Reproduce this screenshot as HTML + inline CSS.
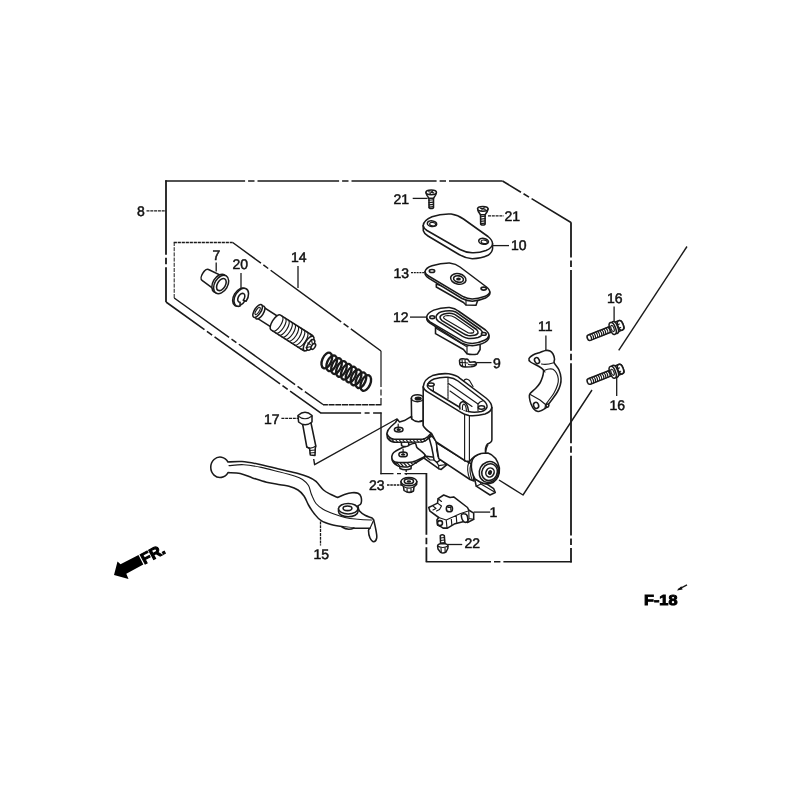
<!DOCTYPE html>
<html><head><meta charset="utf-8"><title>F-18</title>
<style>
html,body{margin:0;padding:0;background:#fff;}
body{width:800px;height:800px;overflow:hidden;}
svg{display:block;will-change:transform;}
text{text-rendering:geometricPrecision;}
.lbl{font-family:"Liberation Sans",Arial,sans-serif;font-size:14px;fill:#111;stroke:#111;stroke-width:0.5;}
.ln{fill:none;stroke:#1a1a1a;stroke-width:1.4;stroke-linecap:butt;stroke-linejoin:round;}
.ld{fill:none;stroke:#1a1a1a;stroke-width:1.3;}
.p{fill:#fff;stroke:#1a1a1a;stroke-width:1.55;stroke-linejoin:round;stroke-linecap:round;}
.t{fill:none;stroke:#1a1a1a;stroke-width:1.15;stroke-linejoin:round;stroke-linecap:round;}
.k{fill:#1a1a1a;stroke:none;}
</style></head>
<body>
<svg width="800" height="800" viewBox="0 0 800 800">
<rect width="800" height="800" fill="#fff"/>
<!-- FRAMES -->
<g id="frames" class="ln" stroke-linecap="butt">
<path d="M166,302 L166,180.3" stroke-dasharray="34.8 3.0 6.4 3.0 76.5 0" stroke-width="1.8"/>
<path d="M165.3,181 L502.5,181" stroke-dasharray="79.8 3.0 6.4 3.0 81.6 3.0 6.4 3.0 85.1 3.0 6.4 3.0 55.5 0" stroke-width="1.35"/>
<path d="M502.5,181 L571,222.5" stroke-dasharray="21.6 3.0 6.4 3.0 48.1 0" stroke-width="1.6"/>
<path d="M571,222.2 L571,562.4" stroke-dasharray="35.3 3.0 6.4 3.0 80.9 3.0 6.4 3.0 80.1 3.0 6.4 3.0 79.8 3.0 6.4 3.0 16.5 0" stroke-width="1.8"/>
<path d="M571.7,561.7 L425.7,561.7" stroke-dasharray="68.3 3.0 6.4 3.0 67.3 0" stroke-width="1.5"/>
<path d="M426.4,561.7 L426.4,473" stroke-dasharray="14.5 3.0 6.4 3.0 63.8 0" stroke-width="1.8"/>
<path d="M427,473.6 L380.4,473.6" stroke-dasharray="22.5 3.5 4 3.5 15.1 0" stroke-width="1.2"/>
<path d="M381,474.3 L381,412.4" stroke-width="1.4"/>
<path d="M381.6,413 L320.5,413" stroke-dasharray="8.5 3.5 5 3.5 42.6 0" stroke-width="1.5"/>
<path d="M321,413.2 L166,302" stroke-dasharray="38.0 3.0 6.4 3.0 80.6 3.0 6.4 3.0 49.4 0" stroke-width="1.6"/>
<path d="M174.2,298 L174.2,242.5" stroke-dasharray="4 1.2" stroke-width="1"/>
<path d="M173.7,242.5 L232.7,242.5" stroke-dasharray="3.2 0.8" stroke-width="1.4"/>
<path d="M232.7,242.5 L381,351" stroke-dasharray="35.0 3 6 3 87.4 3 6 3 39.4 0" stroke-width="1.5"/>
<path d="M381,351 L381,404.5" stroke-dasharray="36 2.5 6 2.5 6 0" stroke-width="1.2"/>
<path d="M381.5,404.7 L323,404.7" stroke-dasharray="6 0.7" stroke-width="1.4"/>
<path d="M323,404.5 L174.2,298" stroke-dasharray="22.3 3 6 3 69.2 3 6 3 69.5 0" stroke-width="1.5"/>
<path d="M687,246.5 L618.7,350.4"/>
<path d="M592,390 L523,495 L499,480"/>
<path d="M313.7,459 L314.6,464.7 L396.7,419 L397.5,426"/>
</g>
<!-- LEADERS -->
<g id="leaders" class="ld">
<path d="M146.5,210.8 H166" stroke-dasharray="3 0.8"/>
<path d="M216.2,262.5 V271.5"/>
<path d="M241,273 V288"/>
<path d="M298,266 V288"/>
<path d="M412.7,198.4 H427.6"/>
<path d="M488,215.9 H503.7" stroke-dasharray="3 0.8"/>
<path d="M492.4,245.6 H509"/>
<path d="M411,272.7 H425" stroke-dasharray="2 0.8"/>
<path d="M410,317.1 H426.7"/>
<path d="M476.6,362.6 H491.5"/>
<path d="M545.9,335.5 V350.4"/>
<path d="M614.1,306.6 V321.5"/>
<path d="M616.7,375.7 V395.9"/>
<path d="M281.4,418.4 H298" stroke-dasharray="3 0.8"/>
<path d="M387,485 H402" stroke-dasharray="2.5 0.8"/>
<path d="M320.5,521.5 V545.5" stroke-dasharray="3 0.8"/>
<path d="M473.6,512.1 H490.2"/>
<path d="M447.4,544.5 H462.2"/>
<path d="M406.2,470 V476" stroke-dasharray="2 1"/>
</g>
<g id="p7" transform="translate(220.7,284.2) rotate(31)">
<path class="p" stroke-width="1.75" d="M0,-8 L-18,-6.3 A3,6.3 0 0 0 -18,6.3 L0,8 Z"/>
<ellipse class="p" stroke-width="1.75" cx="-1.5" cy="0" rx="6.5" ry="10"/>
<ellipse class="p" stroke-width="1.75" cx="0.5" cy="0" rx="6.5" ry="10"/>
<ellipse class="p" stroke-width="1.75" cx="0.8" cy="0" rx="4" ry="6.6"/>
</g>
<g id="p20" transform="translate(241,297.7) rotate(31)">
<ellipse class="p" stroke-width="2.00" cx="-1.2" cy="0" rx="6.2" ry="9.8"/>
<path class="p" stroke-width="2.00" d="M3.5,7.7 A6.2,9.8 0 1 1 6.2,0.5 L3.2,1 A3,4.8 0 1 0 1.5,4.3 Z" />
</g>
<g id="piston" transform="translate(257.2,310.7) rotate(32.5)">
<path class="p" stroke-width="1.75" d="M3,-6.3 L22,-6.3 L22,6.3 L3,6.3 Z"/>
<ellipse class="p" stroke-width="1.75" cx="3.5" cy="0" rx="3.2" ry="7.4"/>
<ellipse class="p" stroke-width="2.12" cx="0.5" cy="0" rx="3.2" ry="7.4"/>
<ellipse class="t" stroke-width="1.88" cx="0.5" cy="0" rx="1.5" ry="4.2"/>
<path class="p" stroke-width="1.88" d="M22,-8.8 L60,-8.8 A3.6,8.8 0 0 1 60,8.8 L22,8.8 A3.6,8.8 0 0 1 22,-8.8 Z"/>
<path class="t" stroke-width="1.88" d="M24.0,-8.8 A3.6,8.8 0 0 1 24.0,8.8"/>
<path class="t" stroke-width="1.88" d="M27.7,-8.8 A3.6,8.8 0 0 1 27.7,8.8"/>
<path class="t" stroke-width="1.88" d="M31.4,-8.8 A3.6,8.8 0 0 1 31.4,8.8"/>
<path class="t" stroke-width="1.88" d="M35.1,-8.8 A3.6,8.8 0 0 1 35.1,8.8"/>
<path class="t" stroke-width="1.88" d="M38.8,-8.8 A3.6,8.8 0 0 1 38.8,8.8"/>
<path class="t" stroke-width="1.88" d="M42.5,-8.8 A3.6,8.8 0 0 1 42.5,8.8"/>
<path class="t" stroke-width="1.88" d="M46.2,-8.8 A3.6,8.8 0 0 1 46.2,8.8"/>
<path class="t" stroke-width="1.88" d="M49.9,-8.8 A3.6,8.8 0 0 1 49.9,8.8"/>
<path class="t" stroke-width="1.88" d="M53.6,-8.8 A3.6,8.8 0 0 1 53.6,8.8"/>
<path class="t" stroke-width="1.88" d="M57.3,-8.8 A3.6,8.8 0 0 1 57.3,8.8"/>
<ellipse class="p" stroke-width="1.75" cx="61" cy="0" rx="3.4" ry="8.4"/>
<ellipse class="p" stroke-width="1.75" cx="63.5" cy="0" rx="2.6" ry="6"/>
<ellipse class="p" stroke-width="1.62" cx="66.5" cy="0" rx="1.8" ry="3.2"/>
<path class="t" d="M61,-5 L64,-2 M61,5 L64,2 M60,0 L63,0"/>
</g>
<g id="spring" transform="translate(326.8,360.5) rotate(30)">
<ellipse cx="0.0" cy="0" rx="4.6" ry="8.3" fill="none" stroke="#1a1a1a" stroke-width="2.38" transform="rotate(-7 0.0 0)"/>
<ellipse cx="5.6" cy="0" rx="4.6" ry="8.3" fill="none" stroke="#1a1a1a" stroke-width="2.38" transform="rotate(-7 5.6 0)"/>
<ellipse cx="11.2" cy="0" rx="4.6" ry="8.3" fill="none" stroke="#1a1a1a" stroke-width="2.38" transform="rotate(-7 11.2 0)"/>
<ellipse cx="16.9" cy="0" rx="4.6" ry="8.3" fill="none" stroke="#1a1a1a" stroke-width="2.38" transform="rotate(-7 16.9 0)"/>
<ellipse cx="22.5" cy="0" rx="4.6" ry="8.3" fill="none" stroke="#1a1a1a" stroke-width="2.38" transform="rotate(-7 22.5 0)"/>
<ellipse cx="28.1" cy="0" rx="4.6" ry="8.3" fill="none" stroke="#1a1a1a" stroke-width="2.38" transform="rotate(-7 28.1 0)"/>
<ellipse cx="33.8" cy="0" rx="4.6" ry="8.3" fill="none" stroke="#1a1a1a" stroke-width="2.38" transform="rotate(-7 33.8 0)"/>
<ellipse cx="39.4" cy="0" rx="4.6" ry="8.3" fill="none" stroke="#1a1a1a" stroke-width="2.38" transform="rotate(-7 39.4 0)"/>
<ellipse cx="45.0" cy="0" rx="4.6" ry="8.3" fill="none" stroke="#1a1a1a" stroke-width="2.38" transform="rotate(-7 45.0 0)"/>
</g>
<g id="p17">
<path class="p" d="M302.6,424 L306.8,447 L309.6,448.5 L310.3,455 L315,455.5 L315.3,448 L315.8,446 L311,423 Z"/>
<path class="t" d="M306.8,447 Q311,449.5 315.8,446 M309.8,450.5 L315.2,450 M310,453 L315.2,452.5"/>
<path class="p" d="M298,415.5 L298.6,422 Q305,427.5 312,422 L312,415.5 Q305,409 298,415.5 Z"/>
<path class="t" d="M298,416 Q305,421.5 312,416"/>
</g>
<g id="lever">
<path class="p" d="M228.0,462.0 C230.3,461.9 237.1,461.3 242.0,461.6 C246.9,461.9 251.6,462.8 257.7,464.0 C263.8,465.2 272.0,467.4 278.7,469.0 C285.4,470.6 293.0,472.2 298.0,473.5 C303.0,474.8 305.5,475.7 308.5,477.0 C311.5,478.3 313.5,479.2 316.0,481.4 C318.5,483.6 321.0,487.8 323.5,490.0 C326.0,492.2 328.6,493.2 331.0,494.5 C333.4,495.8 336.6,497.0 337.7,497.5 C338.8,497.0 342.1,495.3 344.5,494.5 C346.9,493.7 349.8,492.9 352.0,492.7 C354.2,492.5 356.5,492.6 358.0,493.3 C359.5,494.0 360.5,495.0 361.0,496.7 C361.5,498.4 361.5,502.0 361.0,503.5 C360.5,505.0 358.5,505.3 358.0,505.7 C358.2,506.6 358.2,509.4 359.5,511.0 C360.8,512.6 363.5,514.4 365.5,515.5 C367.5,516.6 370.1,517.0 371.5,517.7 C372.9,518.5 373.3,519.6 373.7,520.0 C374.1,521.8 375.5,527.5 376.0,530.5 C376.5,533.5 377.1,536.1 376.7,538.0 C376.3,539.9 374.8,541.7 373.7,541.7 C372.6,541.7 370.9,539.9 370.0,538.0 C369.1,536.1 368.5,532.1 368.5,530.5 C368.5,528.9 369.8,528.6 370.0,528.2 C367.5,528.2 359.5,528.5 355.0,528.2 C350.5,528.0 347.0,527.3 343.0,526.7 C339.0,526.1 334.6,525.5 331.0,524.5 C327.4,523.5 323.9,522.5 321.2,520.7 C318.4,519.0 316.6,516.6 314.5,514.0 C312.4,511.4 310.2,508.0 308.5,505.0 C306.8,502.0 305.8,498.5 304.0,496.0 C302.2,493.5 300.5,491.6 298.0,490.0 C295.5,488.4 292.0,487.1 289.0,486.2 C286.0,485.3 283.8,485.4 280.0,484.7 C276.2,484.0 271.1,483.3 266.5,482.2 C261.9,481.1 256.9,479.3 252.5,477.9 C248.1,476.4 244.3,474.4 240.2,473.5 C236.1,472.6 230.0,472.8 228.0,472.6 A9.3,10.2 0 1 1 228,462 Z"/>
<path class="t" d="M229.0,465.6 C231.4,465.5 238.3,464.4 243.7,464.7 C249.1,465.0 255.4,466.2 261.2,467.4 C267.0,468.6 273.1,470.3 278.7,471.7 C284.2,473.1 290.5,474.7 294.5,476.0 C298.5,477.3 300.2,477.9 302.5,479.5 C304.8,481.1 307.0,483.0 308.5,485.5 C310.0,488.0 310.2,491.5 311.5,494.5 C312.8,497.5 314.0,501.0 316.0,503.5 C318.0,506.0 320.5,507.8 323.5,509.5 C326.5,511.2 330.2,512.6 334.0,514.0 C337.8,515.4 342.0,516.8 346.0,517.7 C350.0,518.6 353.8,518.8 358.0,519.2 C362.2,519.6 369.2,519.9 371.5,520.0"/>
<path class="t" d="M370,528.2 Q372,524 373.7,520"/>
<path class="p" d="M338.5,508.7 L338.5,511.5 A9.7,5.2 0 0 0 358,511.5 L358,508.7 Z"/>
<ellipse class="p" cx="348.2" cy="508.7" rx="9.7" ry="5.2"/>
<ellipse class="p" cx="347.5" cy="508.3" rx="4.4" ry="2.3"/>
<path class="p" d="M342,527 Q348,531 354,528"/>
</g>
<g id="master">
<path class="p" d="M399.4,464 L400,468.5 Q405,471 411,468.8 L411.3,464 Z"/>
<path class="p" d="M391.9,456.5 L392.3,460.5 Q394,464.5 398.7,466.3 Q403,467.3 407.5,466.9 Q412,466 416.3,462.5 L424.8,457.3 L425,455 Z"/>
<path class="p" d="M391.9,456.2 C392.1,454.9 392.3,453.8 393.7,452.5 C395.1,451.2 397.7,449.8 400.0,448.7 C402.3,447.6 405.0,446.5 407.5,445.6 C410.0,444.7 413.4,443.0 415.0,443.3 C416.6,443.6 415.9,446.2 416.9,447.5 C417.9,448.8 419.8,449.9 421.2,451.2 C422.6,452.4 424.7,453.9 425.0,455.0 C425.3,456.1 424.6,456.6 423.1,457.5 C421.6,458.4 418.0,459.9 416.2,460.6 C414.4,461.3 414.7,461.6 412.5,461.9 C410.3,462.2 405.9,462.6 403.0,462.6 C400.1,462.6 396.8,462.3 395.0,461.9 C393.2,461.5 393.0,460.9 392.5,460.0 C392.0,459.1 391.7,457.4 391.9,456.2 Z"/>
<path class="t" d="M394,462.2 L396.5,464.3 M397,463 L399.5,465.6 M400.5,463.3 L403,466 M404,463.4 L406.5,466 M407.5,463.2 L410,465.6 M411,462.8 L413,464.6 M414.5,461.8 L416.3,463.2"/>
<ellipse class="p" cx="403.1" cy="454.4" rx="4.2" ry="2.4"/>
<ellipse class="k" cx="403.1" cy="454.6" rx="2.2" ry="1.2"/>
<path class="t" d="M403.1,449 V454"/>
<path class="p" d="M401.2,440.5 L401.6,445.6 Q405,447.6 408.7,445.6 L408.7,440.5 Z"/>
<path class="p" d="M424.7,456 L424.7,458.7 L438.7,468.7 L441.2,469.4 L446.9,464.7 L440.6,459.7 L436,457.5 Z"/>
<path class="p" d="M429,437.5 L431.6,446.9 L433.1,454.4 L434,460 L436.9,462.5 L440.6,459.7 L438.1,456.2 L436.9,450 L437.5,443.1 L432,436 Z"/>
<path class="t" d="M434,460 L430,460 L425.6,456.2 M436.9,462.5 L438.7,465.6 L438.7,468.7 M438.7,465.6 L446.5,464.5"/>
<path class="p" d="M436.2,442.5 L468.7,462.5 L472,464 L474,481 L470,479.5 L438.7,458.7 Z"/>
<path class="t" d="M468.7,462.5 Q466,470 470,479.5 M471,464 Q468.6,471 472.4,480.5"/>
<path class="p" d="M474.5,478 L476.2,486.2 L490,495 L495.3,492.5 L493.7,488.7 L486.2,483.7 Z"/>
<path class="t" d="M476.2,486.2 L481,484 L493.7,491.5 M481,484 L479,479"/>
<path class="p" d="M471.5,463 Q473,455 481,453.3 L488,453 Q497,456 499.4,468 Q500,478 493,482.5 Q486,485.5 480,482 L475,479 Q470.5,471 471.5,463 Z"/>
<ellipse class="p" cx="489" cy="472" rx="9.6" ry="10.6" transform="rotate(28 489 472)"/>
<ellipse class="p" cx="489.6" cy="472.2" rx="7.6" ry="8.6" transform="rotate(28 489.6 472.2)" stroke-width="1.88"/>
<ellipse class="p" cx="490" cy="472.5" rx="4" ry="4.7" transform="rotate(28 490 472.5)" stroke-width="1.75"/>
<ellipse class="k" cx="490" cy="472.5" rx="2" ry="2.5" transform="rotate(28 490 472.5)"/>
<path class="p" d="M411.3,398.3 L411.6,419 Q417,423.5 423.3,420.5 L423.3,398.3 Z"/>
<ellipse class="p" cx="417.4" cy="398.2" rx="6" ry="3.4"/>
<ellipse class="k" cx="418.2" cy="398.6" rx="3.6" ry="2"/>
<path class="p" d="M386.9,434 L387.4,437.8 Q389.5,441.6 394.5,442.2 L422.5,442 Q426,441 428,438.8 L431.5,434.2 L431,432 Z"/>
<path class="p" d="M386.9,433.3 Q387.3,430 391,426.5 L395.5,422.5 L397.3,419.3 L399.5,422 L404.4,420.6 L411.5,416.3 L411.6,419 Q417,423.5 423.3,420.5 L423.5,426 L427,430 L431.3,433 L428,436.5 Q425,439.1 422.5,439.2 L394,439.3 Q388,438 386.9,433.3 Z"/>
<path class="t" d="M389,438.3 L391,441 M392,439.3 L394,441.8 M395.5,439.5 L397.5,442 M399,439.5 L401,442 M402.5,439.5 L404.5,442 M406,439.5 L408,442 M409.5,439.5 L411.5,442 M413,439.5 L415,442 M416.5,439.5 L418.5,442 M420,439.5 L422,441.8 M423.5,439 L425.3,441 M427,437.5 L428.3,438.6"/>
<ellipse class="p" cx="398.7" cy="429.6" rx="4.3" ry="2.4"/>
<ellipse class="k" cx="398.7" cy="429.8" rx="2.2" ry="1.2"/>
<path class="t" d="M398.2,424 V429"/>
<path class="p" d="M423.2,386.9 L423.2,425.5 Q424.5,428.5 431.5,433.4 L436.2,442 L465.5,461 L469.6,461.5 Q474,455.5 481,453.5 L485.5,453 Q485,447 487.5,444 Q491.9,442.5 491.9,439.5 L491.9,407.5 Z"/>
<path class="t" d="M464.6,415 V461 M469.4,415.6 V460.5" stroke-width="1.38"/>
<path class="t" d="M485.5,453 Q486.5,447 488,445"/>
<path class="p" stroke-width="1.75" d="M423.2,386.9 Q424,379 432.5,375.6 Q441,373 448.7,373.8 Q456,375 460,378.3 L486,398 Q492,403 491.8,407.5 Q491,412 485,414 Q476,416.3 469,415.5 Q464,414.5 461,412.3 L427.5,391.8 Q423.5,389.5 423.2,386.9 Z"/>
<path class="p" d="M427.3,386 Q428,381.5 434,379 Q441,376.8 448,377.3 Q454,378 458,381 L483.5,400.5 Q487.5,404 487,407 Q486,410.3 481.5,411.5 Q474,413 468.5,411.6 Q465,410.5 462.5,409 L431,390 Q427.5,388 427.3,386 Z"/>
<path class="t" d="M448,377.5 V398.5" stroke-dasharray="2 0.8"/>
<path class="t" d="M448.5,383.5 L478,404 M450,391 L472,406.5 M433,384.5 L433.5,391"/>
<path class="p" d="M460,409 Q458.5,402.5 463,401.5 Q467.5,402.5 468.6,411.5"/>
<path class="t" d="M462.5,409.5 Q462,404.5 464,404 Q466,405 466.5,411"/>
<path class="t" d="M478,404 L478,410.5 M483.5,400.5 L480,402 L478,404"/>
<ellipse class="p" cx="431" cy="384.6" rx="3.2" ry="1.7" stroke-width="1.25"/>
<ellipse class="p" cx="481.5" cy="407.5" rx="3.2" ry="1.7" stroke-width="1.25"/>
<path class="t" d="M463.5,381 Q466,377.5 469.5,380.5 L473,386.5" stroke-width="1.38"/>
</g>
<g id="screws21">
<g transform="translate(431.2,192.3)">
<path class="p" d="M-2.3,5 L-2.1,15.5 Q0,17 2.3,15.5 L2.3,5 Z"/>
<path class="t" d="M-2.3,8 L2.3,7.5 M-2.3,10.3 L2.3,9.8 M-2.3,12.6 L2.3,12.1 M-2.3,14.8 L2.3,14.3" stroke-width="1.25"/>
<path class="p" d="M-5.2,0 Q-5.2,2.5 -2.3,6 L2.3,6 Q5.2,2.5 5.2,0 Z"/>
<ellipse class="p" cx="0" cy="0" rx="5.2" ry="2.4"/>
<path class="t" d="M-2.5,-0.6 L2.5,0.6 M-1.2,1.2 L1.4,-1.2" stroke-width="1.25"/>
</g>
<g transform="translate(482.8,208.8)">
<path class="p" d="M-2.3,5 L-2.1,15.5 Q0,17 2.3,15.5 L2.3,5 Z"/>
<path class="t" d="M-2.3,8 L2.3,7.5 M-2.3,10.3 L2.3,9.8 M-2.3,12.6 L2.3,12.1 M-2.3,14.8 L2.3,14.3" stroke-width="1.25"/>
<path class="p" d="M-5.2,0 Q-5.2,2.5 -2.3,6 L2.3,6 Q5.2,2.5 5.2,0 Z"/>
<ellipse class="p" cx="0" cy="0" rx="5.2" ry="2.4"/>
<path class="t" d="M-2.5,-0.6 L2.5,0.6 M-1.2,1.2 L1.4,-1.2" stroke-width="1.25"/>
</g>
</g>
<g id="cap10">
<path class="p" d="M423.2,225.5 L423.3,230.8 Q424,233.5 428,236 L459,254.5 Q465,258 472.3,258.7 Q481,258.5 488,255.3 Q492.5,252.5 492.6,248.3 L492.5,243.5 Z"/>
<path class="p" stroke-width="1.75" d="M423.2,225.5 Q423.5,220.5 432,216.8 Q441,213.6 451.2,214.1 Q458,215 463.5,219 L488,236.5 Q492.8,240.5 492.5,244 Q492,248 486,250.5 Q479,253 472.2,252.7 Q465,252.3 460,249.5 L427,230.5 Q423.3,228 423.2,225.5 Z"/>
<ellipse class="p" cx="432" cy="223.7" rx="4.7" ry="2.8" transform="rotate(8 432 223.7)"/>
<ellipse class="t" cx="432.6" cy="224.2" rx="3" ry="1.7" transform="rotate(8 432.6 224.2)"/>
<ellipse class="p" cx="483.6" cy="241.3" rx="4.9" ry="2.9" transform="rotate(8 483.6 241.3)"/>
<ellipse class="t" cx="484.2" cy="241.8" rx="3.1" ry="1.7" transform="rotate(8 484.2 241.8)"/>
</g>
<g id="plate13">
<path class="p" d="M436.3,284 L436.3,287 L463.5,302.5 L466,305 L476,305.2 L477.5,301 L477.5,297 Z"/>
<path class="t" d="M466,299 V305"/>
<path class="p" d="M425,271.9 L425.2,274.5 Q426,276.5 429,278.3 L462,298.5 Q467,301 472.3,301.2 Q480,300.5 485.5,298 Q489.8,295.5 489.9,293.5 L489.8,292 Z"/>
<path class="p" stroke-width="1.62" d="M425,271.9 Q425.5,268 432,265.8 Q441,263 449.5,263.1 Q456,264 460,267 L486.5,287 Q490,290 489.8,292.3 Q489,295 484.5,296.6 Q478,299 472.2,299 Q467,298.6 463.5,296.8 L428.5,276 Q425.2,274 425,271.9 Z"/>
<ellipse class="p" cx="432" cy="271" rx="2.7" ry="1.5" stroke-width="1.25"/>
<ellipse class="p" cx="483.7" cy="288.6" rx="2.7" ry="1.5" stroke-width="1.25"/>
<ellipse class="p" cx="458.3" cy="278.9" rx="7.8" ry="5.2" transform="rotate(12 458.3 278.9)" stroke-width="1.62"/>
<ellipse class="p" cx="458.5" cy="279" rx="5" ry="3.2" transform="rotate(12 458.5 279)" stroke-width="1.62"/>
<ellipse class="k" cx="458.5" cy="279" rx="2.4" ry="1.5"/>
</g>
<g id="diaph12">
<path class="p" d="M435.5,326.5 L435.5,333.7 L463.5,349.5 L467,353.7 Q472,355.3 477.5,353.9 L480.1,349.5 L480.1,340 Z"/>
<path class="t" d="M467,346.5 V353.7 M435.5,328 L466,346.3 L480,343.5"/>
<path class="p" d="M426.7,317.1 L426.9,319.8 Q427.5,321.5 430,323 L462,343.3 Q467,345.6 472.3,345.7 Q480,345 484.8,342.4 Q488.8,340 489,337.5 L488.9,335.5 Z"/>
<path class="p" stroke-width="1.62" d="M426.7,317.1 Q427,313 433.7,310.1 Q441,307.3 449.5,307.5 Q455,308.2 458.3,311 L485.5,330 Q489.2,333 488.9,335.8 Q488,339 484.5,340.2 Q478,343.3 472.2,343.4 Q467,343.2 463.5,341.6 L430,321.8 Q426.9,319.8 426.7,317.1 Z"/>
<path class="p" stroke-width="1.50" d="M436,317 Q436.5,313.5 441.5,311.8 Q447,310.4 452.5,311 Q456,311.7 458.5,313.8 L480.5,329.5 Q483,331.8 482.5,334 Q481.5,336.5 478,337.6 Q473,338.8 468.5,338.5 Q465,337.8 462.5,336.4 L438.5,321.4 Q436,319.5 436,317 Z"/>
<path class="p" stroke-width="1.50" d="M440,317 Q440.5,315 444,314 Q448,313 452,313.5 Q454.8,314 457,315.8 L476.5,329.5 Q478.5,331.5 478,333 Q477,334.8 474.5,335.3 Q471,336 468,335.6 Q465.5,335 463.5,333.7 L442,320.6 Q440,319 440,317 Z"/>
<path class="t" stroke-width="1.25" d="M443.5,317 Q444.5,315.6 448,315.5 Q452,315.5 455,317.5 L473,330 Q474.5,331.6 473.5,332.6 Q471.5,333.4 468.5,333 L445.5,319.6 Q443.5,318.4 443.5,317 Z"/>
<ellipse class="p" cx="432.2" cy="317.2" rx="2.4" ry="1.4" stroke-width="1.25"/>
<ellipse class="p" cx="483.8" cy="333.9" rx="2.4" ry="1.4" stroke-width="1.25"/>
</g>
<g id="clip9">
<path class="p" d="M459.5,360.5 Q460,358.3 463,358.8 L466,359.3 Q467.5,358.5 468.5,360.5 L470,362.2 L474.5,361.8 Q476.8,362.5 476.3,364.5 Q475,366.5 471,366.8 L465,367 Q460.5,366.5 459.8,364 Z" stroke-width="1.62"/>
<path class="t" d="M462,359.5 L462.5,366 M465,360 L465.5,366.5 M460.5,362.5 L468,363 M468.5,364.5 Q472,365.5 475.5,364"/>
</g>
<g id="holder11">
<path class="p" stroke-width="1.88" d="M529.0,358.5 C529.4,357.3 531.2,356.0 533.0,355.0 C534.8,354.0 537.9,353.2 540.0,352.5 C542.1,351.8 543.8,350.8 545.5,350.5 C547.2,350.2 548.8,350.4 550.0,351.0 C551.2,351.6 552.2,352.7 553.0,354.0 C553.8,355.3 554.3,357.5 554.5,359.0 C554.7,360.5 553.5,361.2 554.3,363.0 C555.0,364.8 557.9,367.5 559.0,370.0 C560.1,372.5 560.8,375.5 561.0,378.0 C561.2,380.5 560.9,382.7 560.3,385.0 C559.7,387.3 558.6,389.7 557.3,392.0 C556.0,394.3 553.9,397.1 552.5,399.0 C551.1,400.9 549.8,402.3 549.0,403.5 C548.2,404.7 548.7,405.5 548.0,406.3 C547.3,407.1 546.0,407.8 545.0,408.5 C544.0,409.2 543.2,409.8 542.0,410.3 C540.8,410.8 539.3,411.7 538.0,411.5 C536.7,411.3 535.2,410.6 534.0,409.3 C532.8,408.1 531.8,405.9 531.0,404.0 C530.2,402.1 529.7,399.7 529.5,398.0 C529.3,396.3 528.9,395.4 530.0,393.7 C531.1,392.0 534.3,389.8 536.0,388.0 C537.7,386.2 538.9,384.8 540.0,383.0 C541.1,381.2 541.9,378.8 542.5,377.0 C543.1,375.2 543.4,373.2 543.5,372.0 C543.6,370.8 543.8,370.4 543.0,369.5 C542.2,368.6 541.1,367.8 539.0,366.5 C536.9,365.2 532.2,363.3 530.5,362.0 C528.8,360.7 528.6,359.7 529.0,358.5 Z"/>
<path class="t" stroke-width="1.50" d="M544.5,370.3 C545.2,370.1 547.6,369.2 549.0,369.0 C550.4,368.8 551.8,368.6 553.0,369.3 C554.2,370.0 555.6,371.4 556.5,373.0 C557.4,374.6 558.1,377.0 558.3,379.0 C558.5,381.0 558.2,382.7 557.5,385.0 C556.8,387.3 555.4,390.5 554.0,393.0 C552.6,395.5 550.3,398.2 549.0,400.0 C547.7,401.8 546.5,403.3 546.0,404.0"/>
<path class="t" stroke-width="1.50" d="M541.5,364 Q546,365.3 553.7,362.8 M543,369.5 L545,372 M530.3,394.6 L540,400 L545.5,404.5 M545.5,404.5 L545,408.5"/>
<ellipse class="p" cx="537" cy="360.6" rx="2.3" ry="3.1" transform="rotate(-28 537 360.6)" stroke-width="1.62"/>
<ellipse class="p" cx="536.1" cy="405.4" rx="2.5" ry="3.1" transform="rotate(-20 536.1 405.4)" stroke-width="1.62"/>
<ellipse class="p" cx="547.4" cy="405.6" rx="1.4" ry="1.6" stroke-width="1.38"/>
</g>
<g id="bolts16">
<g transform="translate(587.4,338.4) rotate(-21.5)">
<path class="p" d="M2,-2.9 L26,-2.9 L26,2.9 L2,2.9 A2,2.9 0 0 1 2,-2.9 Z" stroke-width="1.75"/>
<path class="t" d="M3.4,-2.9 Q4.8,0 3.4,2.9" stroke-width="1.38"/>
<path class="t" d="M5.6,-2.9 Q7.0,0 5.6,2.9" stroke-width="1.38"/>
<path class="t" d="M7.8,-2.9 Q9.2,0 7.8,2.9" stroke-width="1.38"/>
<path class="t" d="M10.0,-2.9 Q11.4,0 10.0,2.9" stroke-width="1.38"/>
<path class="t" d="M12.2,-2.9 Q13.6,0 12.2,2.9" stroke-width="1.38"/>
<path class="t" d="M14.4,-2.9 Q15.8,0 14.4,2.9" stroke-width="1.38"/>
<path class="t" d="M16.6,-2.9 Q18.0,0 16.6,2.9" stroke-width="1.38"/>
<path class="t" d="M18.8,-2.9 Q20.2,0 18.8,2.9" stroke-width="1.38"/>
<path class="t" d="M21.0,-2.9 Q22.4,0 21.0,2.9" stroke-width="1.38"/>
<path class="t" d="M23.2,-2.9 Q24.6,0 23.2,2.9" stroke-width="1.38"/>
<path class="p" d="M29.5,-5 L35.5,-5 Q38.3,-5 38.3,-2 L38.3,2 Q38.3,5 35.5,5 L29.5,5 Z" stroke-width="1.62"/>
<ellipse class="p" cx="35.6" cy="0" rx="2.7" ry="5" stroke-width="1.62"/>
<path class="t" d="M30,-1.6 L35,-1.6 M30,2 L35,2" stroke-width="1.25"/>
<ellipse class="p" cx="29.6" cy="0" rx="2.8" ry="6.3" stroke-width="1.62"/>
<ellipse class="p" cx="27.2" cy="0" rx="2.8" ry="6.3" stroke-width="1.62"/>
<ellipse class="t" cx="27" cy="0" rx="1.4" ry="3.2" stroke-width="1.25"/>
</g>
<g transform="translate(587.4,382.2) rotate(-21.5)">
<path class="p" d="M2,-2.9 L26,-2.9 L26,2.9 L2,2.9 A2,2.9 0 0 1 2,-2.9 Z" stroke-width="1.75"/>
<path class="t" d="M3.4,-2.9 Q4.8,0 3.4,2.9" stroke-width="1.38"/>
<path class="t" d="M5.6,-2.9 Q7.0,0 5.6,2.9" stroke-width="1.38"/>
<path class="t" d="M7.8,-2.9 Q9.2,0 7.8,2.9" stroke-width="1.38"/>
<path class="t" d="M10.0,-2.9 Q11.4,0 10.0,2.9" stroke-width="1.38"/>
<path class="t" d="M12.2,-2.9 Q13.6,0 12.2,2.9" stroke-width="1.38"/>
<path class="t" d="M14.4,-2.9 Q15.8,0 14.4,2.9" stroke-width="1.38"/>
<path class="t" d="M16.6,-2.9 Q18.0,0 16.6,2.9" stroke-width="1.38"/>
<path class="t" d="M18.8,-2.9 Q20.2,0 18.8,2.9" stroke-width="1.38"/>
<path class="t" d="M21.0,-2.9 Q22.4,0 21.0,2.9" stroke-width="1.38"/>
<path class="t" d="M23.2,-2.9 Q24.6,0 23.2,2.9" stroke-width="1.38"/>
<path class="p" d="M29.5,-5 L35.5,-5 Q38.3,-5 38.3,-2 L38.3,2 Q38.3,5 35.5,5 L29.5,5 Z" stroke-width="1.62"/>
<ellipse class="p" cx="35.6" cy="0" rx="2.7" ry="5" stroke-width="1.62"/>
<path class="t" d="M30,-1.6 L35,-1.6 M30,2 L35,2" stroke-width="1.25"/>
<ellipse class="p" cx="29.6" cy="0" rx="2.8" ry="6.3" stroke-width="1.62"/>
<ellipse class="p" cx="27.2" cy="0" rx="2.8" ry="6.3" stroke-width="1.62"/>
<ellipse class="t" cx="27" cy="0" rx="1.4" ry="3.2" stroke-width="1.25"/>
</g>
</g>
<g id="switch1">
<path class="p" stroke-width="1.75" d="M428.7,507.5 L432.5,505.6 L437.5,503.1 L438.1,498.7 L443.7,495.0 L450.0,497.5 L453.7,496.9 L467.5,507.5 L468.7,510.0 L473.7,513.1 L473.7,519.4 L467.5,522.5 L465.0,521.2 L455.0,523.7 L447.5,528.1 L443.1,528.1 L441.2,526.9 L437.5,525.0 L436.9,520.0 L438.7,517.5 L430.0,511.2 Z"/>
<path class="t" stroke-width="1.38" d="M438.7,517.5 L446.2,520 L460,513.7 L467.5,511.2 M446.2,520 L447,527.8 M451.2,517.6 L451.8,524.5 M456.2,515.5 L456.8,523 M432.5,505.6 L436,508.5 L433,510 M437.5,503.1 L441.5,506 L439.5,509.5 L436.5,511 M438.1,498.7 L441.5,501.5"/>
<circle class="p" cx="449.4" cy="508.7" r="3.1" stroke-width="1.62"/>
<path class="t" d="M448,507.5 L450.8,507.5 L450.8,510" stroke-width="1.25"/>
<circle class="p" cx="440" cy="523.1" r="2.5" stroke-width="1.50"/>
<path class="p" d="M461.3,515.5 Q461.5,513.5 464,513.8 Q467,514 467.5,516.5 L468,521 Q466.5,523 464.3,522 Q461.8,520.5 461.3,515.5 Z" stroke-width="1.50"/>
<path class="t" d="M468.7,510 L469,518.5 L473.7,519.4 M469,518.5 L467.8,520.5"/>
</g>
<g id="screw22">
<path class="p" d="M440.3,535.5 Q442.3,534 444.3,535.5 L445,545 L440.6,545 Z" stroke-width="1.62"/>
<path class="t" d="M440.4,538 L444.5,537.5 M440.5,540.5 L444.7,540 M440.6,543 L444.9,542.5" stroke-width="1.25"/>
<path class="p" d="M437.6,546 Q437.5,544 442.8,543.6 Q448,544 448,546 L447.8,548.5 L446,552 Q443,553.8 440.5,552.3 L438,549 Z" stroke-width="1.62"/>
<path class="t" d="M437.6,546 Q442.8,549 448,546 M441,548 L441.3,552.5 M445,548 L445.2,552.3" stroke-width="1.25"/>
</g>
<g id="nut23">
<path class="p" d="M401,481.5 L401.2,484.5 L403.5,486.5 L404,490.5 Q408.5,494 413.5,491 L414,486.8 L416.6,484.5 L416.8,481.5 Z" stroke-width="1.62"/>
<ellipse class="p" cx="408.9" cy="481.6" rx="7.9" ry="4.2" stroke-width="1.62"/>
<ellipse class="p" cx="408.9" cy="481.3" rx="4.6" ry="2.5" stroke-width="1.62"/>
<ellipse class="k" cx="408.9" cy="481.5" rx="2.2" ry="1.2"/>
<path class="t" d="M403.5,486.5 Q408.8,489.5 414,486.8 M407,488.3 L407.2,492.3 M411,488.2 L411,492.2" stroke-width="1.25"/>
</g>
<!-- LABELS -->
<g id="labels" class="lbl">
<text x="137" y="215.5">8</text>
<text x="212.5" y="259.5">7</text>
<text x="232.5" y="269">20</text>
<text x="291" y="262">14</text>
<text x="393.5" y="278">13</text>
<text x="393" y="322">12</text>
<text x="393.5" y="204">21</text>
<text x="504.5" y="221">21</text>
<text x="511" y="250">10</text>
<text x="493" y="367.5">9</text>
<text x="538" y="331">11</text>
<text x="607" y="302.5">16</text>
<text x="609.5" y="409.5">16</text>
<text x="264" y="424">17</text>
<text x="369" y="490">23</text>
<text x="313.5" y="559">15</text>
<text x="489.5" y="517">1</text>
<text x="464.5" y="548">22</text>
</g>
<g id="bold">
<text x="644" y="605" font-family="'Liberation Sans',Arial,sans-serif" font-weight="bold" font-size="14.5" textLength="33.5" lengthAdjust="spacingAndGlyphs" fill="#000" stroke="#000" stroke-width="0.9">F-18</text>
<path class="ln" d="M687,584.8 L678,589.6" stroke-width="1.2"/>
<path d="M676.8,590.4 L681.3,586.3 L682.6,589.6 Z" fill="#111"/>
<g transform="translate(144.3,564.5) rotate(-28)">
<text x="0" y="0" font-family="'Liberation Sans',Arial,sans-serif" font-weight="bold" font-size="15.5" fill="#000" stroke="#000" stroke-width="1.1">FR.</text>
</g>
<path d="M114,575 L117.5,561.5 L120.5,564.2 L138.5,555 L143.3,564.5 L126.3,573.8 L128.5,579 Z" fill="#000"/>
</g>
</svg>
</body></html>
